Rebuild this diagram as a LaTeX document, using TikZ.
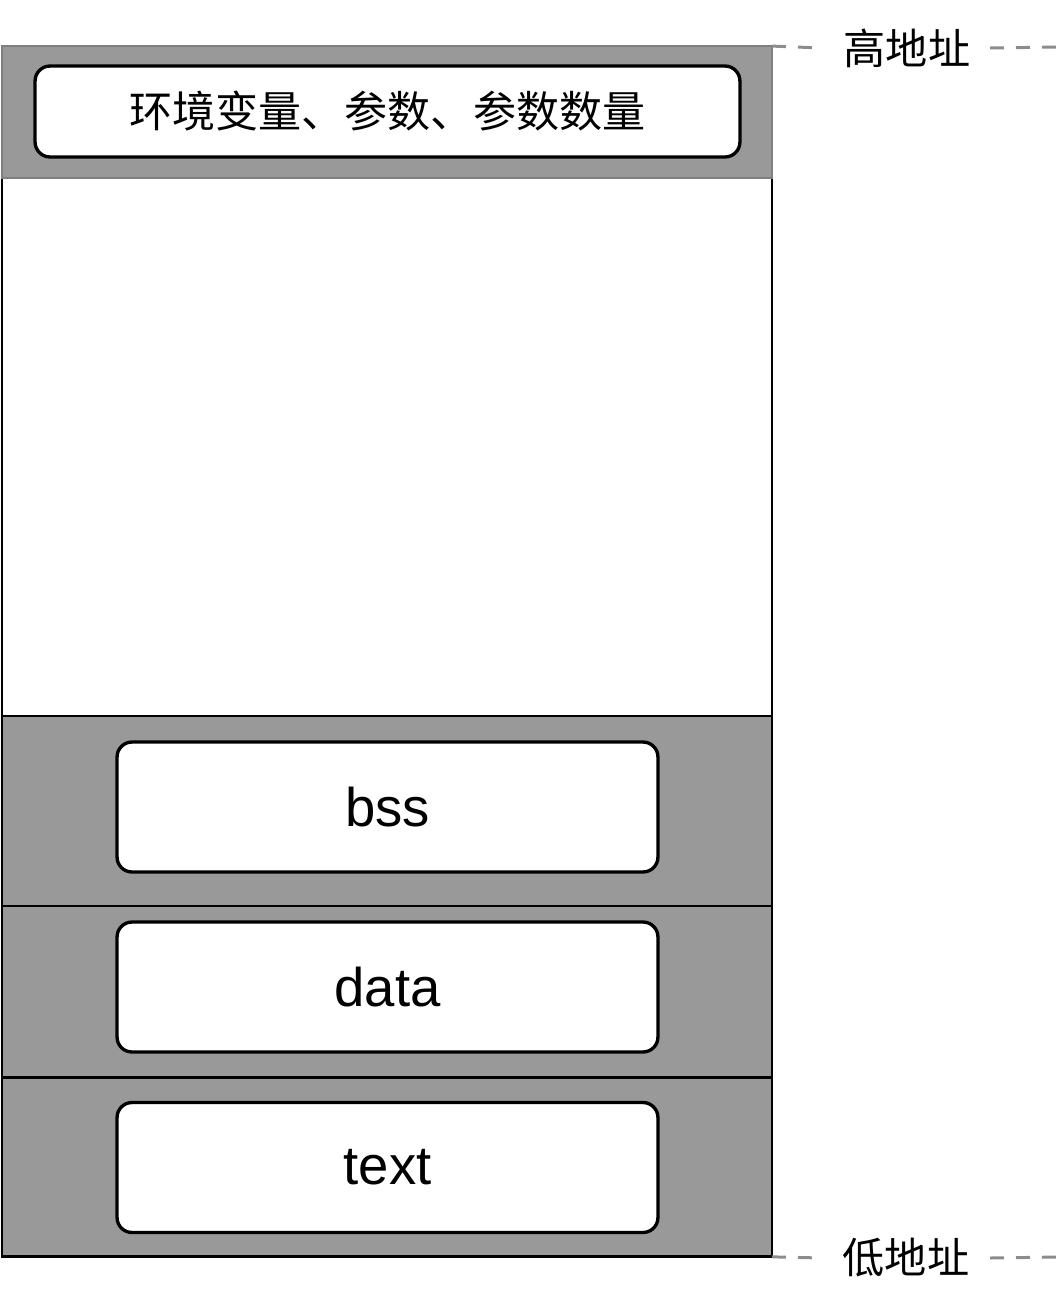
\documentclass[tikz,border=0pt]{standalone}
\usepackage{fontspec}
\setmainfont{Liberation Sans}
\newfontfamily\cjk{Noto Sans CJK SC}
\usepackage{xcolor}
\usetikzlibrary{positioning}
\definecolor{bandgray}{HTML}{999999}
\definecolor{edgegray}{HTML}{7F7F7F}
\definecolor{dashgray}{HTML}{8C8C8C}

\begin{document}
\begin{tikzpicture}[
  x=0.02cm, y=-0.02cm,
  band/.style   = {rectangle, draw=black, line width=1.6pt, fill=bandgray,
                   minimum width=15.4cm, inner sep=0pt, outer sep=0pt},
  segbox/.style = {rectangle, rounded corners=0.3cm, draw=black, line width=1.9pt,
                   fill=white, minimum width=10.82cm, minimum height=2.6cm,
                   font=\fontsize{31}{36}\selectfont},
  addr/.style   = {font=\cjk\fontsize{24}{28}\selectfont, inner sep=0pt},
  dashline/.style = {dashgray, line width=1.7pt, dash pattern=on 0.28cm off 0.24cm},
]
\useasboundingbox (0,0) rectangle (1059,1306);

% Memory bands
\node[band, fill=white, minimum height=10.76cm] (free) at (387,447) {};
\node[band, minimum height=3.8cm,  below=0pt of free] (bss)  {};
\node[band, minimum height=3.44cm, below=0pt of bss]  (data) {};
\node[band, minimum height=3.58cm, below=0pt of data] (text) {};
\node[band, draw=edgegray, minimum height=2.64cm, above=0pt of free] (env) {};

% Segments
\node[segbox, minimum width=14.1cm, minimum height=1.82cm,
      font=\cjk\fontsize{24.5}{28}\selectfont] (envbox) at (387.5,111.5)
      {环境变量、参数、参数数量};
\node[segbox] (bssbox)  at (387.5,807)    {bss};
\node[segbox] (databox) at (387.5,987)    {data};
\node[segbox] (textbox) at (387.5,1167.5) {text};

% Address marks
\node[addr] (high) at (907,48)   {高地址};
\node[addr] (low)  at (906,1258) {低地址};
\coordinate (highend) at (1059,47);
\coordinate (lowend)  at (1059,1257);
\draw[dashline] (env.north east)  -- (high.west -| 822,47);
\draw[dashline] (high.east -| 990,47) -- (highend);
\draw[dashline] (text.south east) -- (low.west -| 822,1257);
\draw[dashline] (low.east -| 990,1257) -- (lowend);
\end{tikzpicture}
\end{document}
